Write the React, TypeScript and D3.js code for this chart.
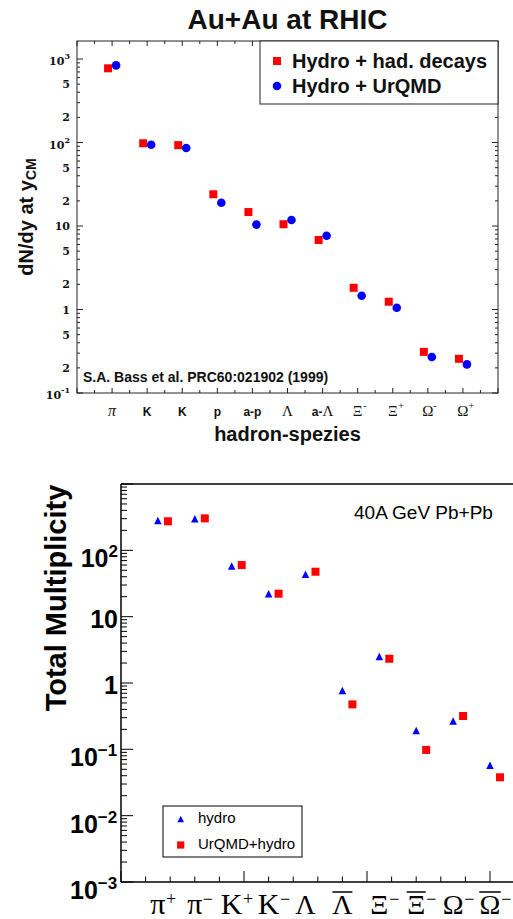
import React from "react";
import * as d3 from "d3";

// ---------- Top panel data (Au+Au at RHIC) ----------
const topCategories = ["π", "K", "K", "p", "a-p", "Λ", "a-Λ", "Ξ", "Ξ", "Ω", "Ω"];
const topSuperscripts = ["", "", "", "", "", "", "", "-", "+", "-", "+"];
const hydroHadDecays = [774, 98, 93, 24, 14.7, 10.5, 6.8, 1.82, 1.24, 0.311, 0.257];
const hydroUrQMD = [840, 94, 86, 19, 10.4, 11.8, 7.65, 1.46, 1.05, 0.27, 0.22];
const topTickValues = [1000, 500, 200, 100, 50, 20, 10, 5, 2, 1, 0.5, 0.2, 0.1];
const topTickLabels = ["10^3", "5", "2", "10^2", "5", "2", "10", "5", "2", "1", "5", "2", "10^-1"];

// ---------- Bottom panel data (40A GeV Pb+Pb) ----------
const botCategories = ["π", "π", "K", "K", "Λ", "Λ", "Ξ", "Ξ", "Ω", "Ω"];
const botSuperscripts = ["+", "−", "+", "−", "", "", "−", "−", "−", "−"];
const botOverline = [false, false, false, false, false, true, false, true, false, true];
const hydro = [281, 299, 58, 22.2, 43.5, 0.77, 2.51, 0.193, 0.268, 0.0574];
const urqmdHydro = [274, 303, 60, 22.2, 47.6, 0.476, 2.32, 0.098, 0.318, 0.0379];
const botTickValues = [100, 10, 1, 0.1, 0.01, 0.001];
const botTickLabels = ["10^2", "10", "1", "10^-1", "10^-2", "10^-3"];

const SERIF = "'Liberation Serif', 'Times New Roman', serif";
const SANS = "'Liberation Sans', Arial, Helvetica, sans-serif";
const DSERIF = "'DejaVu Serif', serif";
const RED = "#ff0000";
const BLUE = "#0000ff";

const isGreek = (s: string) => /[ΛΞΩ]/.test(s);

function logMinorTicks(lo: number, hi: number) {
  const out: { v: number; major: boolean }[] = [];
  for (let e = -4; e <= 4; e++) {
    const d = Math.pow(10, e);
    for (let k = 1; k <= 9; k++) {
      const v = k * d;
      if (v >= lo * 0.9999 && v <= hi * 1.0001) out.push({ v, major: k === 1 });
    }
  }
  return out;
}

function splitPow(s: string): [string, string] {
  const i = s.indexOf("^");
  return i < 0 ? [s, ""] : [s.slice(0, i), s.slice(i + 1)];
}

function TopPanel() {
  const L = 77, R = 498, T = 41, B = 393;
  const x = d3.scaleLinear().domain([-1, 11]).range([L, R]);
  const y = d3.scaleLog().domain([0.1, 1644]).range([B, T]);
  const yt = logMinorTicks(0.1, 1644);
  const xt = d3.range(-1, 11.001, 0.5);
  const frame = "#222";
  return (
    <g>
      <text x={287.5} y={29} textAnchor="middle" fontFamily={SANS} fontWeight="bold" fontSize={28} fill="#111">
        Au+Au at RHIC
      </text>
      <rect x={L} y={T} width={R - L} height={B - T} fill="none" stroke={frame} strokeWidth={1} />
      {yt.map((t, i) => (
        <g key={"yt" + i} stroke={frame} strokeWidth={1}>
          <line x1={L} x2={L + (t.major ? 6 : 3)} y1={y(t.v)} y2={y(t.v)} />
          <line x1={R} x2={R - (t.major ? 6 : 3)} y1={y(t.v)} y2={y(t.v)} />
        </g>
      ))}
      {xt.map((v, i) => {
        const major = Math.abs(v - Math.round(v)) < 1e-6;
        return (
          <g key={"xt" + i} stroke={frame} strokeWidth={1}>
            <line x1={x(v)} x2={x(v)} y1={B} y2={B - (major ? 5 : 3)} />
            <line x1={x(v)} x2={x(v)} y1={T} y2={T + (major ? 5 : 3)} />
          </g>
        );
      })}
      {topTickValues.map((v, i) => {
        const [m, e] = splitPow(topTickLabels[i]);
        return (
          <text key={"yl" + i} x={70} y={y(v) + (e ? 6 : 4)} textAnchor="end" fontFamily={DSERIF} fontWeight="bold" fontSize={11} fill="#111">
            {m}
            {e && (
              <tspan fontSize={8} dy={-6}>
                {e}
              </tspan>
            )}
          </text>
        );
      })}
      {topCategories.map((c, i) => {
        const cx = x(i);
        const sup = topSuperscripts[i];
        if (c === "π") {
          return (
            <text key={"xl" + i} x={cx} y={416} textAnchor="middle" fontFamily={SERIF} fontStyle="italic" fontSize={16} fill="#111">
              π
            </text>
          );
        }
        if (c.startsWith("a-") && isGreek(c)) {
          return (
            <text key={"xl" + i} x={cx} y={416} textAnchor="middle" fill="#111">
              <tspan fontFamily={SANS} fontWeight="bold" fontSize={12}>a-</tspan>
              <tspan fontFamily={SERIF} fontSize={15}>{c.slice(2)}</tspan>
            </text>
          );
        }
        if (isGreek(c)) {
          return (
            <g key={"xl" + i} fill="#111">
              <text x={cx} y={416} textAnchor="middle" fontFamily={SERIF} fontSize={15}>
                {c}
              </text>
              {sup && (
                <text x={cx + 5.5} y={409} fontFamily={SERIF} fontSize={10}>
                  {sup}
                </text>
              )}
            </g>
          );
        }
        return (
          <text key={"xl" + i} x={cx} y={416} textAnchor="middle" fontFamily={SANS} fontWeight="bold" fontSize={12} fill="#111">
            {c}
          </text>
        );
      })}
      {hydroHadDecays.map((v, i) => (
        <rect key={"sq" + i} x={x(i) - 4 - 4} y={y(v) - 4} width={8} height={8} fill={RED} />
      ))}
      {hydroUrQMD.map((v, i) => (
        <circle key={"ci" + i} cx={x(i) + 4} cy={y(v)} r={4.3} fill={BLUE} />
      ))}
      <text x={83} y={382} fontFamily={SANS} fontWeight="bold" fontSize={14} fill="#111">
        S.A. Bass et al. PRC60:021902 (1999)
      </text>
      <text x={287.5} y={441} textAnchor="middle" fontFamily={SANS} fontWeight="bold" fontSize={20} fill="#111">
        hadron-spezies
      </text>
      <text transform={`translate(33, ${(T + B) / 2}) rotate(-90)`} textAnchor="middle" fontFamily={SANS} fontWeight="bold" fontSize={20} fill="#111">
        dN/dy at y
        <tspan fontSize={14} dy={3}>CM</tspan>
      </text>
      {/* legend */}
      <rect x={260} y={T} width={R - 260} height={63} fill="#fff" stroke={frame} strokeWidth={1} />
      <rect x={277 - 4} y={61 - 4} width={8} height={8} fill={RED} />
      <circle cx={277} cy={86} r={4.3} fill={BLUE} />
      <text x={292} y={67.5} fontFamily={SANS} fontWeight="bold" fontSize={20} fill="#111">
        Hydro + had. decays
      </text>
      <text x={292} y={93} fontFamily={SANS} fontWeight="bold" fontSize={20} fill="#111">
        Hydro + UrQMD
      </text>
    </g>
  );
}

function BottomPanel() {
  const L = 121, R = 514.6, T = 484, B = 882;
  const x = d3.scaleLinear().domain([0, 16]).range([L, R]);
  const y = d3.scaleLog().domain([1e-3, 1e3]).range([B, T]);
  const yt = logMinorTicks(1e-3, 1e3);
  const xt = d3.range(0, 16.001, 1);
  const catPos = (i: number) => 1.5 * (i + 1);
  const tri = (cx: number, cy: number, s: number) =>
    `M${cx},${cy - s / 2}L${cx + s / 2},${cy + s / 2}L${cx - s / 2},${cy + s / 2}Z`;
  const baseW: Record<string, number> = { π: 15, K: 21.7, Λ: 20, Ξ: 19, Ω: 21.5 };
  const LB = 914; // label baseline
  return (
    <g>
      <line x1={L} x2={R + 5} y1={T} y2={T} stroke="#000" strokeWidth={1.3} />
      <line x1={L} x2={L} y1={T} y2={B} stroke="#000" strokeWidth={1.5} />
      <line x1={L} x2={R + 5} y1={B} y2={B} stroke="#000" strokeWidth={1.6} />
      {yt.map((t, i) => (
        <line key={"byt" + i} x1={L} x2={L + (t.major ? 12 : 6)} y1={y(t.v)} y2={y(t.v)} stroke="#000" strokeWidth={1} />
      ))}
      {xt.map((v, i) => (
        <line key={"bxt" + i} x1={x(v)} x2={x(v)} y1={B} y2={B - (v % 5 === 0 ? 11 : 5.5)} stroke="#000" strokeWidth={1} />
      ))}
      {botTickValues.map((v, i) => {
        const [m, e] = splitPow(botTickLabels[i]);
        const neg = e.startsWith("-");
        const ex = neg ? "−" + e.slice(1) : e;
        return (
          <text
            key={"byl" + i}
            x={neg ? 70 : 118}
            y={y(v) + (e ? 17 : 11)}
            textAnchor={neg ? "start" : "end"}
            fontFamily={SANS}
            fontWeight="bold"
            fontSize={25}
            fill="#000"
          >
            {m}
            {e && (
              <tspan fontSize={17} dy={-10}>
                {ex}
              </tspan>
            )}
          </text>
        );
      })}
      {botCategories.map((c, i) => {
        const cx = x(catPos(i));
        const g = isGreek(c);
        const w = baseW[c] ?? 20;
        const sup = botSuperscripts[i];
        return (
          <g key={"bxl" + i} fill="#000">
            <text x={cx} y={LB} textAnchor="middle" fontFamily={SERIF} fontSize={g ? 28 : 30}>
              {c}
            </text>
            {sup && (
              <text x={cx + w / 2 + 0.5} y={LB - 9} fontFamily={SERIF} fontSize={18}>
                {sup}
              </text>
            )}
            {botOverline[i] && <line x1={cx - w / 2} x2={cx + w / 2} y1={LB - 22} y2={LB - 22} stroke="#000" strokeWidth={1.5} />}
          </g>
        );
      })}
      {hydro.map((v, i) => (
        <path key={"tri" + i} d={tri(x(catPos(i)), y(v), 7.5)} fill={BLUE} />
      ))}
      {urqmdHydro.map((v, i) => (
        <rect key={"bsq" + i} x={x(catPos(i)) + 10 - 4} y={y(v) - 4} width={8} height={8} fill={RED} />
      ))}
      <text x={354} y={519.3} fontFamily={SANS} fontSize={19} fill="#000">
        40A GeV Pb+Pb
      </text>
      <text transform={`translate(66, 598) rotate(-90)`} textAnchor="middle" fontFamily={SANS} fontWeight="bold" fontSize={29} fill="#000">
        Total Multiplicity
      </text>
      {/* legend */}
      <rect x={163} y={806} width={139} height={51} fill="#fff" stroke="#000" strokeWidth={1} />
      <path d={tri(180.7, 819, 6.7)} fill={BLUE} />
      <rect x={180.7 - 3.6} y={845 - 3.6} width={7.2} height={7.2} fill={RED} />
      <text x={198} y={823.3} fontFamily={SANS} fontSize={15} fill="#000">
        hydro
      </text>
      <text x={198} y={848.7} fontFamily={SANS} fontSize={15} fill="#000">
        UrQMD+hydro
      </text>
    </g>
  );
}

export default function App() {
  return (
    <svg width={513} height={919} style={{ position: "absolute", left: 0, top: 0, background: "#fff" }}>
      <rect width={513} height={919} fill="#fff" />
      <TopPanel />
      <BottomPanel />
    </svg>
  );
}
